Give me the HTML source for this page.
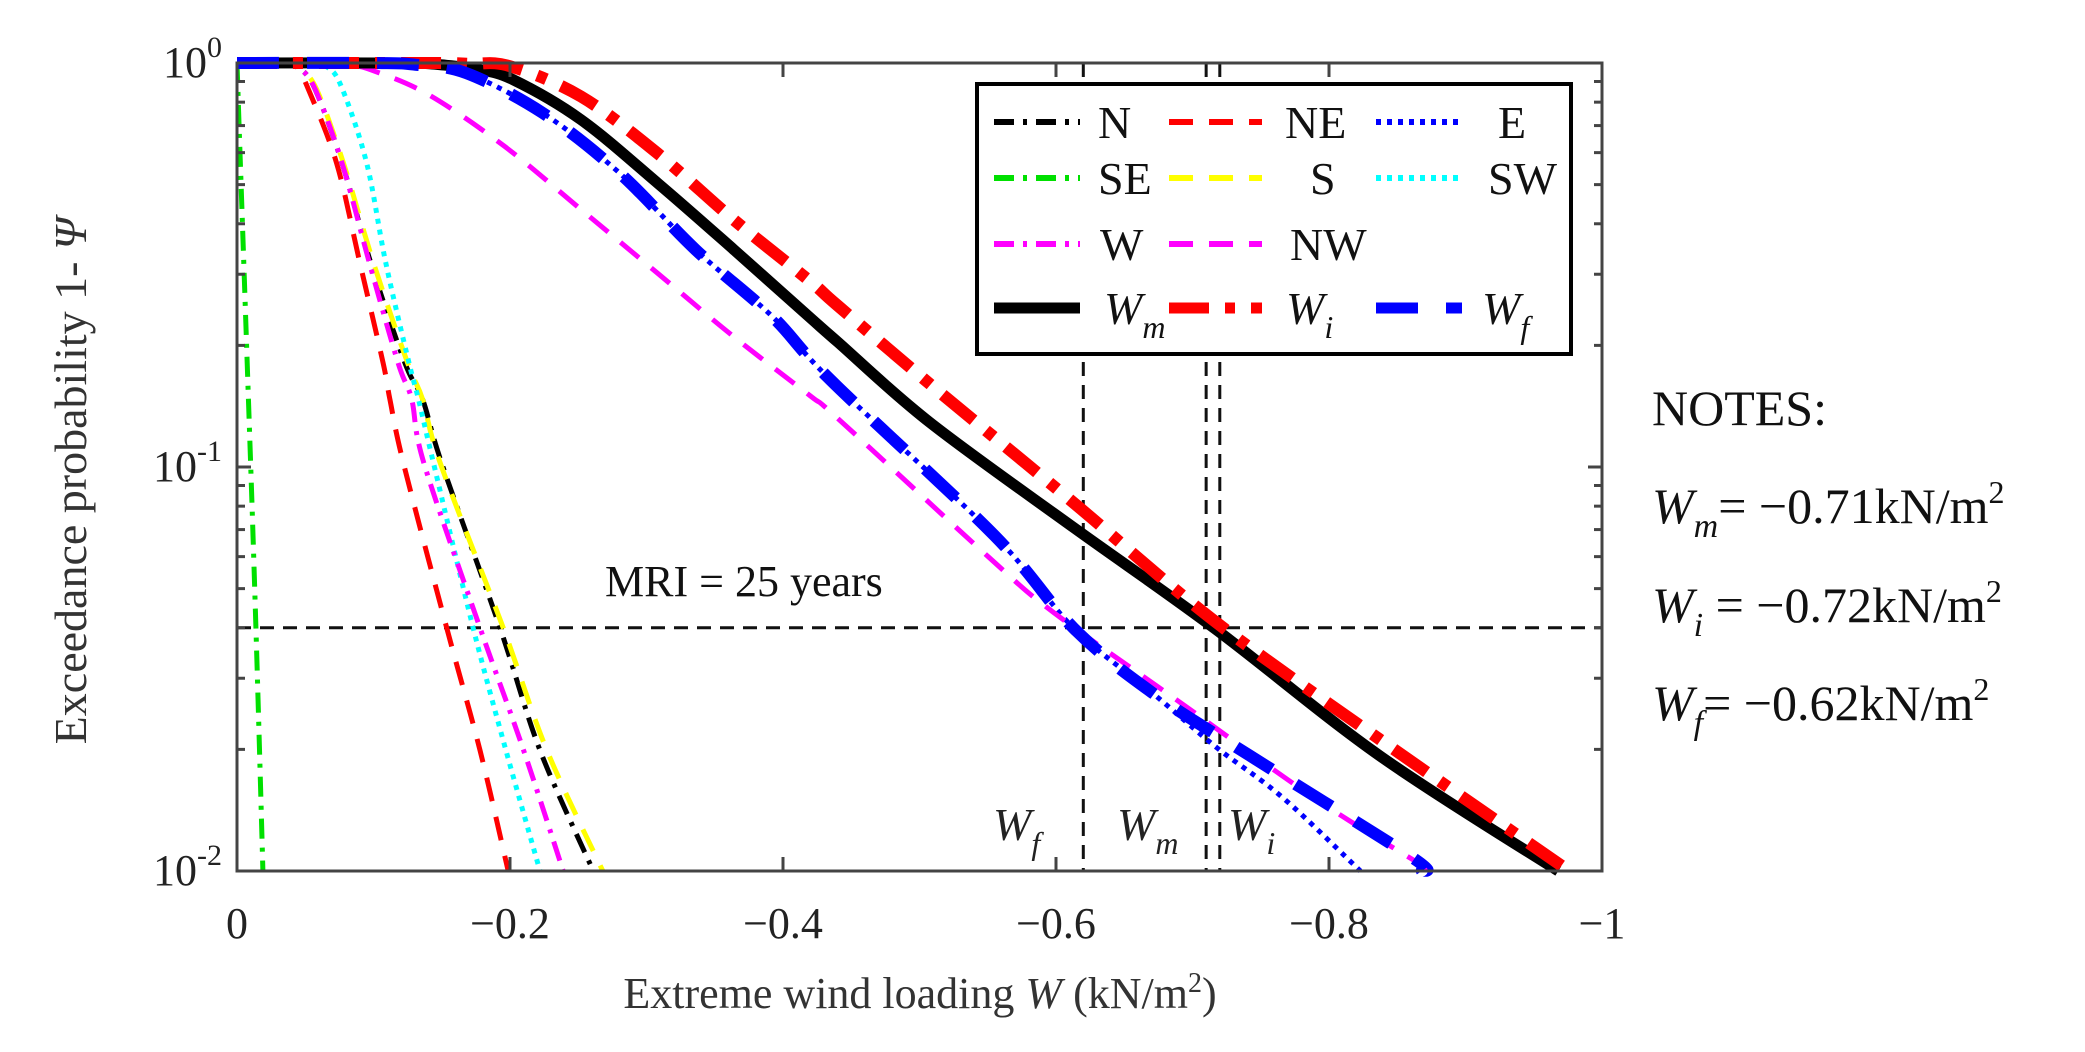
<!DOCTYPE html>
<html><head><meta charset="utf-8">
<style>
html,body{margin:0;padding:0;background:#fff;}
svg{display:block;font-family:"Liberation Serif",serif;}
</style></head>
<body>
<svg id="chart" width="2085" height="1052" viewBox="0 0 2085 1052" xmlns="http://www.w3.org/2000/svg">
<defs><clipPath id="plotclip"><rect x="237" y="56" width="1365" height="822"/></clipPath></defs>
<rect x="0" y="0" width="2085" height="1052" fill="#fff"/>
<g id="grid"></g>
<g id="series" clip-path="url(#plotclip)"></g>
<g id="axes"></g>
<g id="legend"></g>
<text x="86" y="481" font-size="46" fill="#333" text-anchor="middle" transform="rotate(-90 86 481)">Exceedance probability  1- <tspan font-style="italic">Ψ</tspan></text>
<text x="920" y="1008" font-size="44" fill="#333" text-anchor="middle">Extreme wind loading <tspan font-style="italic">W</tspan> (kN/m<tspan font-size="28" dy="-16">2</tspan><tspan dy="16">)</tspan></text>
<text x="605" y="596" font-size="44" fill="#111">MRI = 25 years</text>
<g font-size="50" fill="#111">
<text x="1652" y="425">NOTES:</text>
<text x="1652" y="523"><tspan font-style="italic">W</tspan><tspan font-style="italic" font-size="34" dy="14">m</tspan><tspan dy="-14">= −0.71kN/m</tspan><tspan font-size="32" dy="-20">2</tspan></text>
<text x="1652" y="622"><tspan font-style="italic">W</tspan><tspan font-style="italic" font-size="34" dy="14">i</tspan><tspan dy="-14"> = −0.72kN/m</tspan><tspan font-size="32" dy="-20">2</tspan></text>
<text x="1652" y="720"><tspan font-style="italic">W</tspan><tspan font-style="italic" font-size="34" dy="14">f</tspan><tspan dy="-14">= −0.62kN/m</tspan><tspan font-size="32" dy="-20">2</tspan></text>
</g>
</svg>
<script>
// ---- data ----
const xTicks = [0, -0.2, -0.4, -0.6, -0.8, -1];
const xTickLabels = ["0", "−0.2", "−0.4", "−0.6", "−0.8", "−1"];
const yDecades = [0, -1, -2];
const mriProb = 0.04;
const designW = [-0.62, -0.71, -0.72];
const designLabels = ["f", "m", "i"];

const wN  = [0,-0.039,-0.045,-0.057,-0.077,-0.098,-0.123,-0.136,-0.15,-0.1927,-0.222,-0.261];
const pN  = [1,1,0.977,0.865,0.565,0.32,0.181,0.147,0.102,0.04,0.0199,0.01];
const wNE = [0,-0.039,-0.044,-0.052,-0.073,-0.09,-0.107,-0.112,-0.122,-0.1536,-0.178,-0.1987];
const pNE = [1,1,0.977,0.865,0.565,0.32,0.181,0.147,0.102,0.04,0.0199,0.01];
const wE  = [0,-0.1,-0.13,-0.168,-0.224,-0.28,-0.336,-0.392,-0.435,-0.555,-0.613,-0.67,-0.717,-0.766,-0.823];
const pE  = [1,1,0.991,0.944,0.752,0.535,0.345,0.236,0.164,0.0676,0.0399,0.0277,0.0203,0.0152,0.01];
const wSE = [0,-0.002,-0.007,-0.013,-0.019];
const pSE = [1,0.63,0.2,0.05,0.01];
const wS  = [0,-0.039,-0.045,-0.058,-0.078,-0.1,-0.125,-0.136,-0.149,-0.195,-0.227,-0.268];
const pS  = [1,1,0.977,0.865,0.565,0.32,0.181,0.147,0.102,0.04,0.0199,0.01];
const wSW = [0,-0.05,-0.066,-0.077,-0.095,-0.109,-0.126,-0.133,-0.144,-0.173,-0.197,-0.222];
const pSW = [1,1,0.977,0.865,0.565,0.32,0.181,0.147,0.102,0.04,0.0199,0.01];
const wW  = [0,-0.039,-0.045,-0.057,-0.077,-0.097,-0.118,-0.128,-0.137,-0.178,-0.21,-0.239];
const pW  = [1,1,0.977,0.865,0.565,0.32,0.181,0.147,0.102,0.04,0.0199,0.01];
const wNW = [0,-0.06,-0.08,-0.098,-0.14,-0.196,-0.252,-0.308,-0.364,-0.42,-0.44,-0.551,-0.598,-0.694,-0.79,-0.875];
const pNW = [1,1,0.991,0.962,0.836,0.622,0.434,0.302,0.21,0.15,0.132,0.0597,0.0437,0.0257,0.0151,0.01];
const wWm = [0,-0.12,-0.15,-0.175,-0.202,-0.252,-0.308,-0.364,-0.42,-0.44,-0.5075,-0.613,-0.716,-0.837,-0.968];
const pWm = [1,1,0.989,0.966,0.91,0.724,0.505,0.345,0.234,0.204,0.129,0.0708,0.0399,0.0193,0.01];
const wWi = [0,-0.14,-0.17,-0.2,-0.252,-0.308,-0.364,-0.42,-0.44,-0.51,-0.613,-0.716,-0.837,-0.976];
const pWi = [1,1,0.995,0.982,0.826,0.598,0.409,0.288,0.251,0.158,0.0815,0.0416,0.0212,0.01];
const wWf = [0,-0.1,-0.13,-0.168,-0.224,-0.28,-0.336,-0.392,-0.435,-0.555,-0.613,-0.67,-0.742,-0.861,-0.868];
const pWf = [1,1,0.991,0.944,0.752,0.535,0.345,0.236,0.164,0.0676,0.0399,0.0277,0.0193,0.0108,0.01];

// ---- geometry ----
const L = 237, R = 1602, T = 63, B = 871;
const NS = "http://www.w3.org/2000/svg";
function xs(w){ return L + (-w) * (R - L); }
function ys(p){ return T + (-Math.log10(p)) * (B - T) / 2; }
function mk(tag, attrs, parent){
  const e = document.createElementNS(NS, tag);
  for (const k in attrs) e.setAttribute(k, attrs[k]);
  parent.appendChild(e); return e;
}
function smoothPath(pts){
  let d = 'M' + pts[0][0].toFixed(1) + ' ' + pts[0][1].toFixed(1);
  for (let i = 0; i < pts.length - 1; i++) {
    const p0 = pts[Math.max(0, i-1)], p1 = pts[i], p2 = pts[i+1], p3 = pts[Math.min(pts.length-1, i+2)];
    const c1x = p1[0] + (p2[0]-p0[0])/6, c1y = p1[1] + (p2[1]-p0[1])/6;
    const c2x = p2[0] - (p3[0]-p1[0])/6, c2y = p2[1] - (p3[1]-p1[1])/6;
    d += 'C' + c1x.toFixed(1) + ' ' + c1y.toFixed(1) + ' ' + c2x.toFixed(1) + ' ' + c2y.toFixed(1) + ' ' + p2[0].toFixed(1) + ' ' + p2[1].toFixed(1);
  }
  return d;
}
const gS = document.getElementById('series');
const gA = document.getElementById('axes');
const gG = document.getElementById('grid');
const gL = document.getElementById('legend');

// reference lines
const hl = mk('line', {x1:L, x2:R, y1:ys(mriProb), y2:ys(mriProb), stroke:'#111', 'stroke-width':3, 'stroke-dasharray':'14 9'}, gG);


designW.forEach((w, i) => {
  const v = mk('line', {x1:xs(w), x2:xs(w), y1:T, y2:B, stroke:'#111', 'stroke-width':3, 'stroke-dasharray':'14 9'}, gG);
  
  
});
const labX = [1017, 1141, 1252];
designLabels.forEach((s, i) => {
  const t = mk('text', {x: labX[i]-24, y: 840, 'font-size': 46, 'font-style':'italic', fill:'#222'}, gG);
  
  
  t.innerHTML = 'W<tspan font-size="32" dy="14">' + s + '</tspan>';
});

// series
const series = [
  {n:'N',  w:wN,  p:pN,  c:'#000',    sw:5,  d:'20 9 4 9'},
  {n:'NE', w:wNE, p:pNE, c:'#ff0000', sw:5,  d:'24 16'},
  {n:'E',  w:wE,  p:pE,  c:'#0000ff', sw:5,  d:'5 6'},
  {n:'SE', w:wSE, p:pSE, c:'#00e000', sw:5,  d:'20 9 4 9'},
  {n:'S',  w:wS,  p:pS,  c:'#ffff00', sw:5,  d:'24 16'},
  {n:'SW', w:wSW, p:pSW, c:'#00ffff', sw:5,  d:'5 6'},
  {n:'W',  w:wW,  p:pW,  c:'#ff00ff', sw:5,  d:'20 9 4 9'},
  {n:'NW', w:wNW, p:pNW, c:'#ff00ff', sw:5,  d:'24 16'},
  {n:'Wm', w:wWm, p:pWm, c:'#000',    sw:11, d:''},
  {n:'Wi', w:wWi, p:pWi, c:'#ff0000', sw:12, d:'40 16 10 16'},
  {n:'Wf', w:wWf, p:pWf, c:'#0000ff', sw:12, d:'42 28'}
];
series.forEach(s => {
  const pts = s.w.map((w, i) => [xs(w), ys(s.p[i])]);
  const a = {d:smoothPath(pts), fill:'none', stroke:s.c, 'stroke-width':s.sw, 'stroke-linejoin':'round'};
  if (s.d) a['stroke-dasharray'] = s.d;
  const e = mk('path', a, gS);
  
  
});

// axes box
const box = mk('rect', {x:L, y:T, width:R-L, height:B-T, fill:'none', stroke:'#444', 'stroke-width':3}, gA);


xTicks.forEach((w, i) => {
  const x = xs(w);
  mk('line', {x1:x, x2:x, y1:B, y2:B-14, stroke:'#444', 'stroke-width':3}, gA);
  mk('line', {x1:x, x2:x, y1:T, y2:T+14, stroke:'#444', 'stroke-width':3}, gA);
  const t = mk('text', {x:x, y:938, 'font-size':44, fill:'#222', 'text-anchor':'middle'}, gA);
  
  
  t.textContent = xTickLabels[i];
});
yDecades.forEach(dec => {
  const y = ys(Math.pow(10, dec));
  mk('line', {x1:L, x2:L+14, y1:y, y2:y, stroke:'#444', 'stroke-width':3}, gA);
  mk('line', {x1:R, x2:R-14, y1:y, y2:y, stroke:'#444', 'stroke-width':3}, gA);
  const t = mk('text', {x:222, y:y+14, 'font-size':44, fill:'#222', 'text-anchor':'end'}, gA);
  
  
  t.innerHTML = '10<tspan font-size="30" dy="-20">' + (dec === 0 ? '0' : String(dec)) + '</tspan>';
  if (dec > -2) {
    for (let k = 2; k <= 9; k++) {
      const yy = ys(Math.pow(10, dec - 1) * k);
      mk('line', {x1:L, x2:L+8, y1:yy, y2:yy, stroke:'#444', 'stroke-width':3}, gA);
      mk('line', {x1:R, x2:R-8, y1:yy, y2:yy, stroke:'#444', 'stroke-width':3}, gA);
    }
  }
});

// legend
const lb = mk('rect', {x:977, y:84, width:594, height:270, fill:'#fff', stroke:'#000', 'stroke-width':4}, gL);


const legRows = [122, 178, 244, 308];
const legCols = [[994, 1080], [1169, 1262], [1376, 1462]];
const legText = [[1098, 'N'], [1285, 'NE'], [1498, 'E'], [1098, 'SE'], [1310, 'S'], [1488, 'SW'], [1100, 'W'], [1290, 'NW']];
series.forEach((s, i) => {
  const r = i < 8 ? Math.floor(i / 3) : 3;
  const c = i < 8 ? i % 3 : i - 8;
  const y = legRows[r];
  const a = {x1:legCols[c][0], x2:legCols[c][1], y1:y, y2:y, stroke:s.c, 'stroke-width':s.sw > 6 ? 11 : 6};
  if (s.d) a['stroke-dasharray'] = s.d;
  const ln = mk('line', a, gL);
  
  
  let t;
  if (i < 8) {
    t = mk('text', {x:legText[i][0], y:y+16, 'font-size':46, fill:'#111'}, gL);
    t.textContent = legText[i][1];
  } else {
    const sub = s.n.slice(1);
    t = mk('text', {x:[1104, 1286, 1482][c], y:y+16, 'font-size':46, fill:'#111', 'font-style':'italic'}, gL);
    t.innerHTML = 'W<tspan font-size="32" dy="14">' + sub + '</tspan>';
  }
  
  
});
</script>
</body></html>
